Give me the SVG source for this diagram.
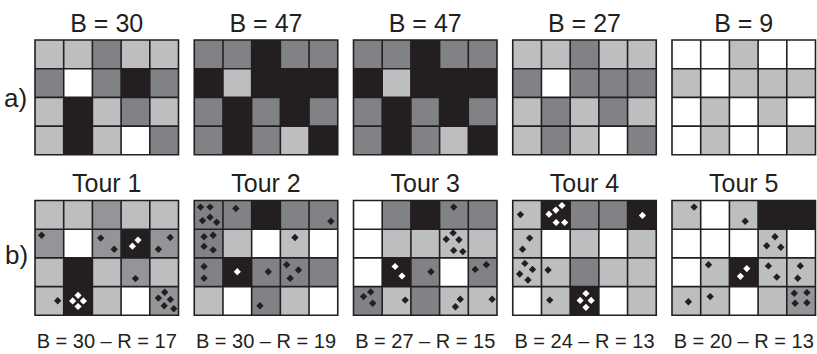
<svg xmlns="http://www.w3.org/2000/svg" xmlns:xlink="http://www.w3.org/1999/xlink" width="817" height="354" viewBox="0 0 817 354">
<style>
.w{fill:#ffffff}.l{fill:#bcbec0}.m{fill:#808285}.m2{fill:#939598}.d{fill:#231f20}
.gl{fill:none;stroke:#231f20;stroke-width:1.6}
text{font-family:"Liberation Sans",Arial,Helvetica,sans-serif;fill:#231f20}
.t{font-size:25px;text-anchor:middle}
.lab{font-size:26px}
.cap{font-size:20px;text-anchor:middle}
</style>
<defs>
<path id="dk" d="M0,-3.7L3.7,0L0,3.7L-3.7,0Z" fill="#231f20"/>
<path id="dw" d="M0,-3.6L3.6,0L0,3.6L-3.6,0Z" fill="#ffffff"/>
<path id="lines" class="gl" d="M0,0H143.5V114.8H0Z M28.7,0V114.8 M57.4,0V114.8 M86.1,0V114.8 M114.8,0V114.8 M0,28.7H143.5 M0,57.4H143.5 M0,86.1H143.5"/>
</defs>
<rect width="817" height="354" fill="#ffffff"/>
<text class="lab" x="4" y="107">a)</text>
<text class="lab" x="5" y="264">b)</text>

<g id="a1">
<text class="t" x="106.75" y="32">B = 30</text>
<g transform="translate(35,40)">
<rect class="l" x="0" y="0" width="28.7" height="28.7"/><rect class="l" x="28.7" y="0" width="28.7" height="28.7"/><rect class="m" x="57.4" y="0" width="28.7" height="28.7"/><rect class="l" x="86.1" y="0" width="28.7" height="28.7"/><rect class="l" x="114.8" y="0" width="28.7" height="28.7"/>
<rect class="m" x="0" y="28.7" width="28.7" height="28.7"/><rect class="w" x="28.7" y="28.7" width="28.7" height="28.7"/><rect class="m" x="57.4" y="28.7" width="28.7" height="28.7"/><rect class="d" x="86.1" y="28.7" width="28.7" height="28.7"/><rect class="m" x="114.8" y="28.7" width="28.7" height="28.7"/>
<rect class="l" x="0" y="57.4" width="28.7" height="28.7"/><rect class="d" x="28.7" y="57.4" width="28.7" height="28.7"/><rect class="l" x="57.4" y="57.4" width="28.7" height="28.7"/><rect class="m" x="86.1" y="57.4" width="28.7" height="28.7"/><rect class="l" x="114.8" y="57.4" width="28.7" height="28.7"/>
<rect class="l" x="0" y="86.1" width="28.7" height="28.7"/><rect class="d" x="28.7" y="86.1" width="28.7" height="28.7"/><rect class="l" x="57.4" y="86.1" width="28.7" height="28.7"/><rect class="w" x="86.1" y="86.1" width="28.7" height="28.7"/><rect class="m" x="114.8" y="86.1" width="28.7" height="28.7"/>
<use href="#lines"/>
</g>
</g>

<g id="a2">
<text class="t" x="266" y="32">B = 47</text>
<g transform="translate(194.25,40)">
<rect class="m" x="0" y="0" width="28.7" height="28.7"/><rect class="m" x="28.7" y="0" width="28.7" height="28.7"/><rect class="d" x="57.4" y="0" width="28.7" height="28.7"/><rect class="m" x="86.1" y="0" width="28.7" height="28.7"/><rect class="m" x="114.8" y="0" width="28.7" height="28.7"/>
<rect class="d" x="0" y="28.7" width="28.7" height="28.7"/><rect class="l" x="28.7" y="28.7" width="28.7" height="28.7"/><rect class="d" x="57.4" y="28.7" width="28.7" height="28.7"/><rect class="d" x="86.1" y="28.7" width="28.7" height="28.7"/><rect class="d" x="114.8" y="28.7" width="28.7" height="28.7"/>
<rect class="m" x="0" y="57.4" width="28.7" height="28.7"/><rect class="d" x="28.7" y="57.4" width="28.7" height="28.7"/><rect class="m" x="57.4" y="57.4" width="28.7" height="28.7"/><rect class="d" x="86.1" y="57.4" width="28.7" height="28.7"/><rect class="m" x="114.8" y="57.4" width="28.7" height="28.7"/>
<rect class="m" x="0" y="86.1" width="28.7" height="28.7"/><rect class="d" x="28.7" y="86.1" width="28.7" height="28.7"/><rect class="m" x="57.4" y="86.1" width="28.7" height="28.7"/><rect class="l" x="86.1" y="86.1" width="28.7" height="28.7"/><rect class="d" x="114.8" y="86.1" width="28.7" height="28.7"/>
<use href="#lines"/>
</g>
</g>

<g id="a3">
<text class="t" x="425.25" y="32">B = 47</text>
<g transform="translate(353.5,40)">
<rect class="m" x="0" y="0" width="28.7" height="28.7"/><rect class="m" x="28.7" y="0" width="28.7" height="28.7"/><rect class="d" x="57.4" y="0" width="28.7" height="28.7"/><rect class="m" x="86.1" y="0" width="28.7" height="28.7"/><rect class="m" x="114.8" y="0" width="28.7" height="28.7"/>
<rect class="d" x="0" y="28.7" width="28.7" height="28.7"/><rect class="l" x="28.7" y="28.7" width="28.7" height="28.7"/><rect class="d" x="57.4" y="28.7" width="28.7" height="28.7"/><rect class="d" x="86.1" y="28.7" width="28.7" height="28.7"/><rect class="d" x="114.8" y="28.7" width="28.7" height="28.7"/>
<rect class="m" x="0" y="57.4" width="28.7" height="28.7"/><rect class="d" x="28.7" y="57.4" width="28.7" height="28.7"/><rect class="m" x="57.4" y="57.4" width="28.7" height="28.7"/><rect class="d" x="86.1" y="57.4" width="28.7" height="28.7"/><rect class="m" x="114.8" y="57.4" width="28.7" height="28.7"/>
<rect class="m" x="0" y="86.1" width="28.7" height="28.7"/><rect class="d" x="28.7" y="86.1" width="28.7" height="28.7"/><rect class="m" x="57.4" y="86.1" width="28.7" height="28.7"/><rect class="l" x="86.1" y="86.1" width="28.7" height="28.7"/><rect class="d" x="114.8" y="86.1" width="28.7" height="28.7"/>
<use href="#lines"/>
</g>
</g>

<g id="a4">
<text class="t" x="584.5" y="32">B = 27</text>
<g transform="translate(512.75,40)">
<rect class="l" x="0" y="0" width="28.7" height="28.7"/><rect class="l" x="28.7" y="0" width="28.7" height="28.7"/><rect class="m" x="57.4" y="0" width="28.7" height="28.7"/><rect class="l" x="86.1" y="0" width="28.7" height="28.7"/><rect class="l" x="114.8" y="0" width="28.7" height="28.7"/>
<rect class="m" x="0" y="28.7" width="28.7" height="28.7"/><rect class="w" x="28.7" y="28.7" width="28.7" height="28.7"/><rect class="m" x="57.4" y="28.7" width="28.7" height="28.7"/><rect class="m" x="86.1" y="28.7" width="28.7" height="28.7"/><rect class="m" x="114.8" y="28.7" width="28.7" height="28.7"/>
<rect class="l" x="0" y="57.4" width="28.7" height="28.7"/><rect class="m" x="28.7" y="57.4" width="28.7" height="28.7"/><rect class="l" x="57.4" y="57.4" width="28.7" height="28.7"/><rect class="m" x="86.1" y="57.4" width="28.7" height="28.7"/><rect class="l" x="114.8" y="57.4" width="28.7" height="28.7"/>
<rect class="l" x="0" y="86.1" width="28.7" height="28.7"/><rect class="m" x="28.7" y="86.1" width="28.7" height="28.7"/><rect class="l" x="57.4" y="86.1" width="28.7" height="28.7"/><rect class="w" x="86.1" y="86.1" width="28.7" height="28.7"/><rect class="m" x="114.8" y="86.1" width="28.7" height="28.7"/>
<use href="#lines"/>
</g>
</g>

<g id="a5">
<text class="t" x="743.75" y="32">B = 9</text>
<g transform="translate(672,40)">
<rect class="w" x="0" y="0" width="28.7" height="28.7"/><rect class="w" x="28.7" y="0" width="28.7" height="28.7"/><rect class="l" x="57.4" y="0" width="28.7" height="28.7"/><rect class="w" x="86.1" y="0" width="28.7" height="28.7"/><rect class="w" x="114.8" y="0" width="28.7" height="28.7"/>
<rect class="l" x="0" y="28.7" width="28.7" height="28.7"/><rect class="w" x="28.7" y="28.7" width="28.7" height="28.7"/><rect class="l" x="57.4" y="28.7" width="28.7" height="28.7"/><rect class="l" x="86.1" y="28.7" width="28.7" height="28.7"/><rect class="l" x="114.8" y="28.7" width="28.7" height="28.7"/>
<rect class="w" x="0" y="57.4" width="28.7" height="28.7"/><rect class="l" x="28.7" y="57.4" width="28.7" height="28.7"/><rect class="w" x="57.4" y="57.4" width="28.7" height="28.7"/><rect class="l" x="86.1" y="57.4" width="28.7" height="28.7"/><rect class="w" x="114.8" y="57.4" width="28.7" height="28.7"/>
<rect class="w" x="0" y="86.1" width="28.7" height="28.7"/><rect class="l" x="28.7" y="86.1" width="28.7" height="28.7"/><rect class="w" x="57.4" y="86.1" width="28.7" height="28.7"/><rect class="w" x="86.1" y="86.1" width="28.7" height="28.7"/><rect class="l" x="114.8" y="86.1" width="28.7" height="28.7"/>
<use href="#lines"/>
</g>
</g>

<g id="b1">
<text class="t" x="106.75" y="192">Tour 1</text>
<g transform="translate(35,200.5)">
<rect class="l" x="0" y="0" width="28.7" height="28.7"/><rect class="l" x="28.7" y="0" width="28.7" height="28.7"/><rect class="m2" x="57.4" y="0" width="28.7" height="28.7"/><rect class="l" x="86.1" y="0" width="28.7" height="28.7"/><rect class="l" x="114.8" y="0" width="28.7" height="28.7"/>
<rect class="m2" x="0" y="28.7" width="28.7" height="28.7"/><rect class="w" x="28.7" y="28.7" width="28.7" height="28.7"/><rect class="m2" x="57.4" y="28.7" width="28.7" height="28.7"/><rect class="d" x="86.1" y="28.7" width="28.7" height="28.7"/><rect class="m2" x="114.8" y="28.7" width="28.7" height="28.7"/>
<rect class="l" x="0" y="57.4" width="28.7" height="28.7"/><rect class="d" x="28.7" y="57.4" width="28.7" height="28.7"/><rect class="l" x="57.4" y="57.4" width="28.7" height="28.7"/><rect class="m2" x="86.1" y="57.4" width="28.7" height="28.7"/><rect class="l" x="114.8" y="57.4" width="28.7" height="28.7"/>
<rect class="l" x="0" y="86.1" width="28.7" height="28.7"/><rect class="d" x="28.7" y="86.1" width="28.7" height="28.7"/><rect class="l" x="57.4" y="86.1" width="28.7" height="28.7"/><rect class="w" x="86.1" y="86.1" width="28.7" height="28.7"/><rect class="m2" x="114.8" y="86.1" width="28.7" height="28.7"/>
<use href="#lines"/>
<use href="#dk" x="6.6" y="34.7"/>
<use href="#dk" x="65.7" y="37.6"/><use href="#dk" x="79.2" y="48.8"/>
<use href="#dw" x="103.0" y="39.6"/><use href="#dw" x="97.4" y="45.7"/>
<use href="#dk" x="135.2" y="37.0"/><use href="#dk" x="123.4" y="48.8"/>
<use href="#dk" x="100.5" y="78.1"/>
<use href="#dk" x="22.7" y="100.2"/>
<use href="#dw" x="43.05" y="94.8"/><use href="#dw" x="37.7" y="100.4"/><use href="#dw" x="48.4" y="100.4"/><use href="#dw" x="43.05" y="106.0"/>
<use href="#dk" x="123.4" y="97.6"/><use href="#dk" x="129.7" y="91.8"/><use href="#dk" x="135.4" y="99.0"/><use href="#dk" x="129.2" y="105.2"/><use href="#dk" x="138.8" y="108.2"/>
</g>
<text class="cap" x="106.75" y="348">B = 30 – R = 17</text>
</g>

<g id="b2">
<text class="t" x="266" y="192">Tour 2</text>
<g transform="translate(194.25,200.5)">
<rect class="m" x="0" y="0" width="28.7" height="28.7"/><rect class="m" x="28.7" y="0" width="28.7" height="28.7"/><rect class="d" x="57.4" y="0" width="28.7" height="28.7"/><rect class="m" x="86.1" y="0" width="28.7" height="28.7"/><rect class="m" x="114.8" y="0" width="28.7" height="28.7"/>
<rect class="m" x="0" y="28.7" width="28.7" height="28.7"/><rect class="l" x="28.7" y="28.7" width="28.7" height="28.7"/><rect class="w" x="57.4" y="28.7" width="28.7" height="28.7"/><rect class="l" x="86.1" y="28.7" width="28.7" height="28.7"/><rect class="w" x="114.8" y="28.7" width="28.7" height="28.7"/>
<rect class="m" x="0" y="57.4" width="28.7" height="28.7"/><rect class="d" x="28.7" y="57.4" width="28.7" height="28.7"/><rect class="m" x="57.4" y="57.4" width="28.7" height="28.7"/><rect class="m" x="86.1" y="57.4" width="28.7" height="28.7"/><rect class="m" x="114.8" y="57.4" width="28.7" height="28.7"/>
<rect class="l" x="0" y="86.1" width="28.7" height="28.7"/><rect class="w" x="28.7" y="86.1" width="28.7" height="28.7"/><rect class="m" x="57.4" y="86.1" width="28.7" height="28.7"/><rect class="l" x="86.1" y="86.1" width="28.7" height="28.7"/><rect class="w" x="114.8" y="86.1" width="28.7" height="28.7"/>
<use href="#lines"/>
<use href="#dk" x="6.3" y="6.6"/><use href="#dk" x="15.8" y="6.6"/><use href="#dk" x="8.3" y="20.1"/><use href="#dk" x="15.8" y="16.8"/><use href="#dk" x="22.4" y="21.8"/>
<use href="#dk" x="41.6" y="8.0"/>
<use href="#dk" x="136.6" y="20.7"/>
<use href="#dk" x="9.8" y="36.2"/><use href="#dk" x="18.9" y="34.7"/><use href="#dk" x="9.8" y="45.9"/><use href="#dk" x="18.9" y="49.4"/>
<use href="#dk" x="100.7" y="37.0"/>
<use href="#dk" x="9.8" y="66.0"/><use href="#dk" x="9.8" y="77.8"/>
<use href="#dw" x="43.05" y="71.2"/>
<use href="#dk" x="74.0" y="71.2"/>
<use href="#dk" x="92.4" y="64.3"/><use href="#dk" x="104.2" y="69.5"/><use href="#dk" x="95.9" y="77.8"/>
<use href="#dk" x="65.7" y="105.3"/>
</g>
<text class="cap" x="266" y="348">B = 30 – R = 19</text>
</g>

<g id="b3">
<text class="t" x="425.25" y="192">Tour 3</text>
<g transform="translate(353.5,200.5)">
<rect class="w" x="0" y="0" width="28.7" height="28.7"/><rect class="m" x="28.7" y="0" width="28.7" height="28.7"/><rect class="d" x="57.4" y="0" width="28.7" height="28.7"/><rect class="m" x="86.1" y="0" width="28.7" height="28.7"/><rect class="m" x="114.8" y="0" width="28.7" height="28.7"/>
<rect class="w" x="0" y="28.7" width="28.7" height="28.7"/><rect class="l" x="28.7" y="28.7" width="28.7" height="28.7"/><rect class="l" x="57.4" y="28.7" width="28.7" height="28.7"/><rect class="l" x="86.1" y="28.7" width="28.7" height="28.7"/><rect class="l" x="114.8" y="28.7" width="28.7" height="28.7"/>
<rect class="w" x="0" y="57.4" width="28.7" height="28.7"/><rect class="d" x="28.7" y="57.4" width="28.7" height="28.7"/><rect class="m" x="57.4" y="57.4" width="28.7" height="28.7"/><rect class="w" x="86.1" y="57.4" width="28.7" height="28.7"/><rect class="m" x="114.8" y="57.4" width="28.7" height="28.7"/>
<rect class="m" x="0" y="86.1" width="28.7" height="28.7"/><rect class="l" x="28.7" y="86.1" width="28.7" height="28.7"/><rect class="m" x="57.4" y="86.1" width="28.7" height="28.7"/><rect class="l" x="86.1" y="86.1" width="28.7" height="28.7"/><rect class="l" x="114.8" y="86.1" width="28.7" height="28.7"/>
<use href="#lines"/>
<use href="#dk" x="100.2" y="6.6"/>
<use href="#dk" x="92.7" y="38.7"/><use href="#dk" x="99.6" y="32.4"/><use href="#dk" x="105.4" y="39.3"/><use href="#dk" x="100.2" y="49.9"/><use href="#dk" x="109.3" y="51.1"/>
<use href="#dw" x="41.6" y="66.0"/><use href="#dw" x="48.5" y="75.5"/>
<use href="#dk" x="77.5" y="71.2"/>
<use href="#dk" x="121.7" y="68.9"/><use href="#dk" x="132.9" y="64.3"/>
<use href="#dk" x="10.0" y="96.1"/><use href="#dk" x="17.2" y="91.4"/><use href="#dk" x="19.2" y="102.7"/>
<use href="#dk" x="51.7" y="99.6"/>
<use href="#dk" x="106.8" y="98.7"/><use href="#dk" x="101.9" y="106.2"/>
<use href="#dk" x="138.6" y="98.7"/>
</g>
<text class="cap" x="425.25" y="348">B = 27 – R = 15</text>
</g>

<g id="b4">
<text class="t" x="584.5" y="192">Tour 4</text>
<g transform="translate(512.75,200.5)">
<rect class="l" x="0" y="0" width="28.7" height="28.7"/><rect class="d" x="28.7" y="0" width="28.7" height="28.7"/><rect class="m" x="57.4" y="0" width="28.7" height="28.7"/><rect class="m" x="86.1" y="0" width="28.7" height="28.7"/><rect class="d" x="114.8" y="0" width="28.7" height="28.7"/>
<rect class="l" x="0" y="28.7" width="28.7" height="28.7"/><rect class="w" x="28.7" y="28.7" width="28.7" height="28.7"/><rect class="l" x="57.4" y="28.7" width="28.7" height="28.7"/><rect class="w" x="86.1" y="28.7" width="28.7" height="28.7"/><rect class="l" x="114.8" y="28.7" width="28.7" height="28.7"/>
<rect class="l" x="0" y="57.4" width="28.7" height="28.7"/><rect class="l" x="28.7" y="57.4" width="28.7" height="28.7"/><rect class="m" x="57.4" y="57.4" width="28.7" height="28.7"/><rect class="l" x="86.1" y="57.4" width="28.7" height="28.7"/><rect class="l" x="114.8" y="57.4" width="28.7" height="28.7"/>
<rect class="w" x="0" y="86.1" width="28.7" height="28.7"/><rect class="l" x="28.7" y="86.1" width="28.7" height="28.7"/><rect class="d" x="57.4" y="86.1" width="28.7" height="28.7"/><rect class="w" x="86.1" y="86.1" width="28.7" height="28.7"/><rect class="l" x="114.8" y="86.1" width="28.7" height="28.7"/>
<use href="#lines"/>
<use href="#dk" x="7.7" y="14.1"/>
<use href="#dw" x="36.2" y="13.7"/><use href="#dw" x="43.1" y="9.6"/><use href="#dw" x="49.2" y="5.0"/><use href="#dw" x="43.4" y="22.0"/><use href="#dw" x="51.9" y="22.0"/>
<use href="#dw" x="129.7" y="14.9"/>
<use href="#dk" x="16.9" y="37.6"/><use href="#dk" x="9.8" y="48.8"/>
<use href="#dk" x="12.1" y="62.9"/><use href="#dk" x="19.8" y="68.9"/><use href="#dk" x="6.9" y="73.5"/><use href="#dk" x="15.2" y="79.5"/>
<use href="#dk" x="35.3" y="69.5"/>
<use href="#dk" x="37.0" y="99.6"/>
<use href="#dw" x="73.2" y="93.0"/><use href="#dw" x="67.4" y="99.9"/><use href="#dw" x="78.4" y="99.9"/><use href="#dw" x="73.2" y="106.8"/>
</g>
<text class="cap" x="584.5" y="348">B = 24 – R = 13</text>
</g>

<g id="b5">
<text class="t" x="743.75" y="192">Tour 5</text>
<g transform="translate(672,200.5)">
<rect class="l" x="0" y="0" width="28.7" height="28.7"/><rect class="w" x="28.7" y="0" width="28.7" height="28.7"/><rect class="l" x="57.4" y="0" width="28.7" height="28.7"/><rect class="d" x="86.1" y="0" width="28.7" height="28.7"/><rect class="d" x="114.8" y="0" width="28.7" height="28.7"/>
<rect class="w" x="0" y="28.7" width="28.7" height="28.7"/><rect class="w" x="28.7" y="28.7" width="28.7" height="28.7"/><rect class="w" x="57.4" y="28.7" width="28.7" height="28.7"/><rect class="l" x="86.1" y="28.7" width="28.7" height="28.7"/><rect class="w" x="114.8" y="28.7" width="28.7" height="28.7"/>
<rect class="w" x="0" y="57.4" width="28.7" height="28.7"/><rect class="l" x="28.7" y="57.4" width="28.7" height="28.7"/><rect class="d" x="57.4" y="57.4" width="28.7" height="28.7"/><rect class="l" x="86.1" y="57.4" width="28.7" height="28.7"/><rect class="l" x="114.8" y="57.4" width="28.7" height="28.7"/>
<rect class="l" x="0" y="86.1" width="28.7" height="28.7"/><rect class="l" x="28.7" y="86.1" width="28.7" height="28.7"/><rect class="w" x="57.4" y="86.1" width="28.7" height="28.7"/><rect class="l" x="86.1" y="86.1" width="28.7" height="28.7"/><rect class="m2" x="114.8" y="86.1" width="28.7" height="28.7"/>
<use href="#lines"/>
<use href="#dk" x="22.1" y="6.6"/>
<use href="#dk" x="73.2" y="20.7"/>
<use href="#dk" x="103.0" y="36.2"/><use href="#dk" x="94.7" y="45.3"/><use href="#dk" x="108.8" y="46.8"/>
<use href="#dk" x="36.5" y="64.3"/>
<use href="#dw" x="74.8" y="68.1"/><use href="#dw" x="68.4" y="75.8"/>
<use href="#dk" x="96.4" y="65.4"/><use href="#dk" x="104.8" y="76.6"/>
<use href="#dk" x="128.3" y="65.4"/><use href="#dk" x="125.7" y="77.8"/>
<use href="#dk" x="16.4" y="101.3"/>
<use href="#dk" x="38.2" y="96.1"/>
<use href="#dk" x="122.3" y="92.7"/><use href="#dk" x="134.9" y="92.1"/><use href="#dk" x="123.1" y="102.7"/><use href="#dk" x="134.9" y="102.2"/>
</g>
<text class="cap" x="743.75" y="348">B = 20 – R = 13</text>
</g>
</svg>
